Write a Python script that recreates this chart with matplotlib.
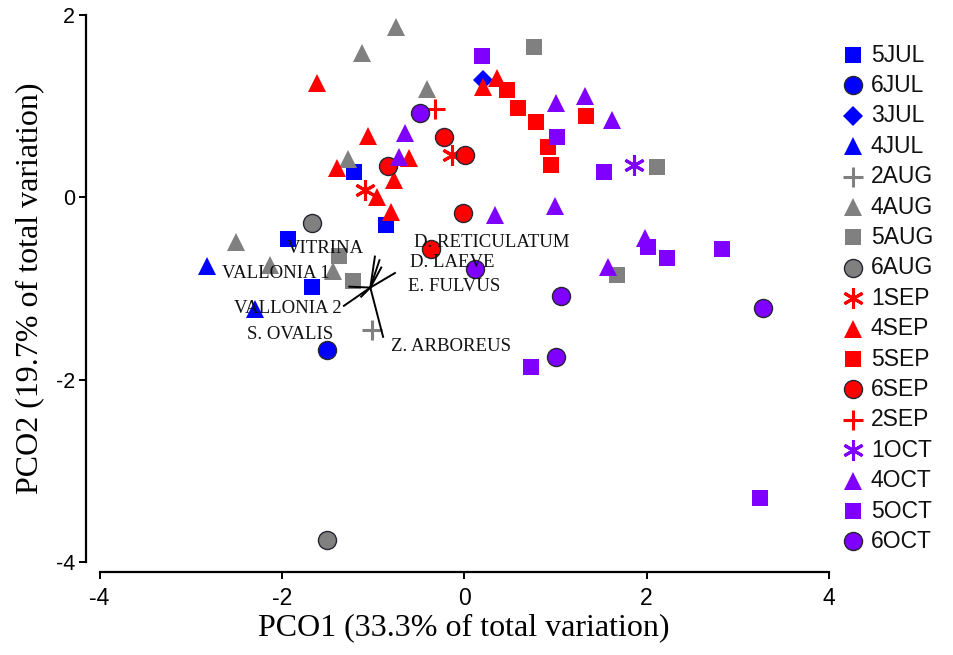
import matplotlib
matplotlib.use("Agg")
import matplotlib.pyplot as plt
from matplotlib.lines import Line2D

plt.rcParams["axes.unicode_minus"] = False

# ---- sample scores on the first two principal coordinates ----
series_names = ["5JUL", "6JUL", "3JUL", "4JUL", "2AUG", "4AUG", "5AUG", "6AUG",
                "1SEP", "4SEP", "5SEP", "6SEP", "2SEP", "1OCT", "4OCT", "5OCT", "6OCT"]

x_5jul = [-1.21, -1.93, -1.67, -0.86]
y_5jul = [0.28, -0.46, -0.98, -0.30]
x_6jul = [-1.50]
y_6jul = [-1.68]
x_3jul = [0.21]
y_3jul = [1.29]
x_4jul = [-2.82, -2.29]
y_4jul = [-0.75, -1.22]
x_2aug = [-1.01]
y_2aug = [-1.45]
x_4aug = [-0.75, -1.12, -0.41, -1.27, -2.50, -2.13, -1.44]
y_4aug = [1.87, 1.58, 1.19, 0.42, -0.49, -0.74, -0.81]
x_5aug = [0.77, 2.11, 1.68, -1.37, -1.22]
y_5aug = [1.65, 0.33, -0.85, -0.64, -0.92]
x_6aug = [-1.67, -1.51]
y_6aug = [-0.28, -3.76]
x_1sep = [-1.09, -0.13]
y_1sep = [0.08, 0.46]
x_4sep = [-1.62, -1.06, -1.39, -0.61, -0.77, -0.96, -0.80, 0.36, 0.21]
y_4sep = [1.25, 0.67, 0.32, 0.43, 0.19, 0.00, -0.16, 1.31, 1.21]
x_5sep = [0.47, 0.59, 0.79, 1.34, 0.92, 0.95]
y_5sep = [1.18, 0.98, 0.83, 0.89, 0.55, 0.35]
x_6sep = [-0.84, -0.22, 0.01, -0.01, -0.36]
y_6sep = [0.34, 0.66, 0.46, -0.17, -0.57]
x_2sep = [-0.32]
y_2sep = [0.97]
x_1oct = [1.86]
y_1oct = [0.35]
x_4oct = [-0.65, -0.72, 1.01, 1.32, 1.62, 0.34, 1.00, 1.98, 1.58]
y_4oct = [0.71, 0.44, 1.03, 1.11, 0.85, -0.19, -0.10, -0.45, -0.76]
x_5oct = [0.20, 1.02, 1.53, 2.01, 2.22, 2.83, 3.24, 0.73]
y_5oct = [1.55, 0.66, 0.28, -0.54, -0.66, -0.57, -3.30, -1.86]
x_6oct = [-0.49, 0.12, 1.06, 1.01, 3.28]
y_6oct = [0.92, -0.79, -1.08, -1.75, -1.21]

xs = [x_5jul, x_6jul, x_3jul, x_4jul, x_2aug, x_4aug, x_5aug, x_6aug,
      x_1sep, x_4sep, x_5sep, x_6sep, x_2sep, x_1oct, x_4oct, x_5oct, x_6oct]
ys = [y_5jul, y_6jul, y_3jul, y_4jul, y_2aug, y_4aug, y_5aug, y_6aug,
      y_1sep, y_4sep, y_5sep, y_6sep, y_2sep, y_1oct, y_4oct, y_5oct, y_6oct]

# ---- species vectors (biplot) ----
vec_origin = (-1.03, -0.99)
species = ["VITRINA", "D. RETICULATUM", "D. LAEVE", "E. FULVUS",
           "VALLONIA 1", "VALLONIA 2", "S. OVALIS", "Z. ARBOREUS"]
vec_dx = [0.05, 0.10, 0.12, 0.27, -0.23, -0.29, -0.10, 0.14]
vec_dy = [0.34, 0.30, 0.22, 0.16, 0.01, -0.20, -0.10, -0.54]
label_x = [-1.52, 0.30, -0.13, -0.11, -2.07, -1.93, -1.91, -0.14]
label_y = [-0.56, -0.49, -0.71, -0.98, -0.83, -1.22, -1.50, -1.64]

# ---- styles ----
BLUE = "#0000FF"
GREY = "#808080"
RED = "#FF0000"
PURPLE = "#7F00FF"

def style(color, marker):
    d = dict(color=color, marker=marker, linestyle="none")
    if marker == "o":
        d.update(markersize=13, markeredgecolor=(0.15, 0.15, 0.2), markeredgewidth=1.0)
    elif marker == "s":
        d.update(markersize=11.5, markeredgewidth=0)
    elif marker == "^":
        d.update(markersize=13.5, markeredgewidth=0)
    elif marker == "D":
        d.update(markersize=10, markeredgewidth=0)
    elif marker == "+":
        d.update(markersize=15, markeredgewidth=2.2)
    elif marker == "*":
        d.update(marker=(6, 2, 0), markersize=15, markeredgewidth=2.2)
    return d

styles = [style(BLUE, "s"), style(BLUE, "o"), style(BLUE, "D"), style(BLUE, "^"),
          style(GREY, "+"), style(GREY, "^"), style(GREY, "s"), style(GREY, "o"),
          style(RED, "*"), style(RED, "^"), style(RED, "s"), style(RED, "o"),
          style(RED, "+"), style(PURPLE, "*"), style(PURPLE, "^"), style(PURPLE, "s"),
          style(PURPLE, "o")]

W, H = 954, 655
fig = plt.figure(figsize=(W / 100, H / 100), dpi=100)
ax = fig.add_axes([99.5 / W, (H - 562) / H, (829 - 99.5) / W, (562 - 15) / H])

for x, y, st in zip(xs, ys, styles):
    ax.plot(x, y, clip_on=False, zorder=3, **st)

# biplot vectors and labels
ox, oy = vec_origin
for dx, dy in zip(vec_dx, vec_dy):
    ax.plot([ox, ox + dx], [oy, oy + dy], color="black", lw=1.4, zorder=4)
for name, lx, ly in zip(species, label_x, label_y):
    ax.text(lx, ly, name, ha="center", va="center", fontsize=13.5,
            family="Liberation Serif", color="#111111", zorder=5)

ax.set_xlim(-4, 4)
ax.set_ylim(-4, 2)
ax.set_xticks([-4, -2, 0, 2, 4])
ax.set_yticks([-4, -2, 0, 2])
ax.spines["top"].set_visible(False)
ax.spines["right"].set_visible(False)
ax.spines["left"].set_position(("outward", 9.7))
ax.spines["bottom"].set_position(("outward", 7.2))
for s in ("left", "bottom"):
    ax.spines[s].set_linewidth(1.6)
ax.tick_params(axis="both", direction="out", length=5, width=1.4, color="black")
ax.tick_params(axis="y", labelsize=15.5, pad=3)
ax.tick_params(axis="x", labelsize=16.5, pad=6)
for t in ax.get_yticklabels():
    t.set_family("Liberation Sans")
for t in ax.get_xticklabels():
    t.set_family("Liberation Sans")

ax.set_xlabel("PCO1 (33.3% of total variation)", family="Liberation Serif",
              fontsize=23, labelpad=2)
ax.set_ylabel("PCO2 (19.7% of total variation)", family="Liberation Serif",
              fontsize=23, labelpad=8)

# legend column at the right
leg_top = 55
leg_step = 30.4
for i, (name, st) in enumerate(zip(series_names, styles)):
    py = leg_top + i * leg_step
    fy = 1 - py / H
    fig.add_artist(Line2D([853 / W], [fy], transform=fig.transFigure, **st))
    fig.text(871 / W, fy, name, ha="left", va="center", fontsize=16.5,
             family="Liberation Sans", color="#111111")

fig.savefig("out.png", dpi=100)
